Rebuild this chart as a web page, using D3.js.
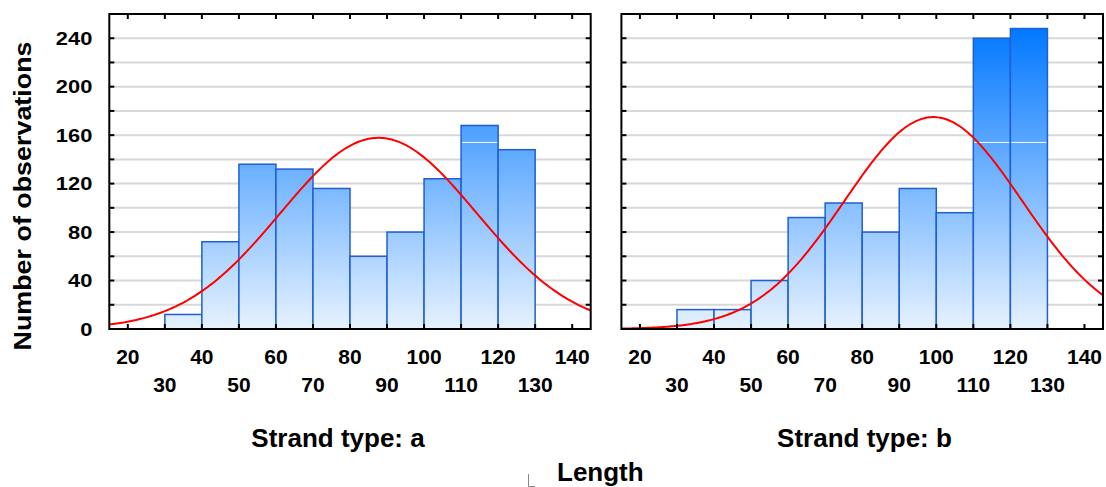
<!DOCTYPE html>
<html>
<head>
<meta charset="utf-8">
<script src="https://cdn.jsdelivr.net/npm/d3@7"></script>
<style>
  body { margin: 0; background: #fff; }
  svg text { font-family: "Liberation Sans", Arial, sans-serif; font-weight: bold; fill: #000; }
</style>
</head>
<body>
<svg id="chart" width="1106" height="487"></svg>
<script>
// bins of width 10, lower edges
var binStarts = [30, 40, 50, 60, 70, 80, 90, 100, 110, 120];
var countsA = [12, 72, 136, 132, 116, 60, 80, 124, 168, 148];
var countsB = [16, 16, 40, 92, 104, 80, 116, 96, 240, 248];
// normal fit
var fitA = { mean: 87.7, sd: 26.5 };
var fitB = { mean: 99.2, sd: 23.9 };
var xTicks = [20, 30, 40, 50, 60, 70, 80, 90, 100, 110, 120, 130, 140];
var yTicks = [0, 40, 80, 120, 160, 200, 240];
var yMinor = [20, 60, 100, 140, 180, 220];
var panelTitles = ["Strand type: a", "Strand type: b"];

var binWidth = 10;
var svg = d3.select('#chart');

var defs = svg.append('defs');
var grad = defs.append('linearGradient')
    .attr('id', 'barfill')
    .attr('gradientUnits', 'userSpaceOnUse')
    .attr('x1', 0).attr('x2', 0)
    .attr('y1', 329).attr('y2', 26);
grad.append('stop').attr('offset', '0%').attr('stop-color', '#e6f2fe');
grad.append('stop').attr('offset', '100%').attr('stop-color', '#0077ff');

var y = d3.scaleLinear().domain([0, 260]).range([329, 14]);

var drawPanel = function (x0, x1, counts, fit, title, titleX, showY, id) {
    var x = d3.scaleLinear().domain([15, 145]).range([x0, x1]);
    var g = svg.append('g');

    defs.append('clipPath').attr('id', 'clip' + id)
        .append('rect')
        .attr('x', x0).attr('y', y(260))
        .attr('width', x1 - x0).attr('height', y(0) - y(260));

    // grid
    g.selectAll('.grid')
        .data(d3.range(20, 260, 20))
        .enter().append('line')
        .attr('x1', x0).attr('x2', x1)
        .attr('y1', function (d) { return y(d); })
        .attr('y2', function (d) { return y(d); })
        .attr('stroke', '#d8d8d8')
        .attr('stroke-width', 2);

    // bars
    g.selectAll('.bar')
        .data(counts)
        .enter().append('rect')
        .attr('x', function (d, i) { return x(binStarts[i]); })
        .attr('width', function (d, i) { return x(binStarts[i] + binWidth) - x(binStarts[i]); })
        .attr('y', function (d) { return y(d); })
        .attr('height', function (d) { return y(0) - y(d); })
        .attr('fill', 'url(#barfill)')
        .attr('stroke', '#1f5fd2')
        .attr('stroke-width', 1.5);

    // thin white band seen in the taller bars
    g.selectAll('.band')
        .data(counts.map(function (d, i) { return { v: d, i: i }; }).filter(function (d) { return d.v > 156; }))
        .enter().append('line')
        .attr('x1', function (d) { return x(binStarts[d.i]) + 1; })
        .attr('x2', function (d) { return x(binStarts[d.i] + binWidth) - 1; })
        .attr('y1', y(154)).attr('y2', y(154))
        .attr('stroke', '#fff').attr('stroke-width', 1);

    // fitted normal curve
    var total = d3.sum(counts);
    var pts = d3.range(15, 145.01, 0.5).map(function (v) {
        var z = (v - fit.mean) / fit.sd;
        return [v, total * binWidth * Math.exp(-0.5 * z * z) / (fit.sd * Math.sqrt(2 * Math.PI))];
    });
    g.append('path')
        .datum(pts)
        .attr('clip-path', 'url(#clip' + id + ')')
        .attr('fill', 'none')
        .attr('stroke', '#ff0000')
        .attr('stroke-width', 2)
        .attr('d', d3.line()
            .x(function (d) { return x(d[0]); })
            .y(function (d) { return y(d[1]); }));

    // ticks, all pointing inward
    var tk = 5;
    xTicks.forEach(function (t) {
        g.append('line').attr('x1', x(t)).attr('x2', x(t))
            .attr('y1', y(0)).attr('y2', y(0) - tk)
            .attr('stroke', '#000').attr('stroke-width', 2);
        g.append('line').attr('x1', x(t)).attr('x2', x(t))
            .attr('y1', y(260)).attr('y2', y(260) + tk)
            .attr('stroke', '#000').attr('stroke-width', 2);
    });
    yTicks.concat(yMinor).forEach(function (t) {
        if (t === 0) return;
        g.append('line').attr('x1', x0).attr('x2', x0 + tk)
            .attr('y1', y(t)).attr('y2', y(t))
            .attr('stroke', '#000').attr('stroke-width', 2);
        g.append('line').attr('x1', x1).attr('x2', x1 - tk)
            .attr('y1', y(t)).attr('y2', y(t))
            .attr('stroke', '#000').attr('stroke-width', 2);
    });

    // frame
    g.append('rect')
        .attr('x', x0).attr('y', y(260))
        .attr('width', x1 - x0).attr('height', y(0) - y(260))
        .attr('fill', 'none').attr('stroke', '#000').attr('stroke-width', 2);

    // x tick labels in two staggered rows
    g.selectAll('.xl')
        .data(xTicks)
        .enter().append('text')
        .attr('x', function (d) { return x(d); })
        .attr('y', function (d, i) { return i % 2 === 0 ? 364 : 392; })
        .attr('text-anchor', 'middle')
        .style('font-size', '21px')
        .text(function (d) { return d; });

    if (showY) {
        // numbers on the y axis are a bit wider than tall in the source
        g.selectAll('.yl')
            .data(yTicks)
            .enter().append('text')
            .attr('transform', function (d) { return 'translate(' + (x0 - 17) + ',' + y(d) + ') scale(1.15,1)'; })
            .attr('dy', '0.35em')
            .attr('text-anchor', 'end')
            .style('font-size', '19px')
            .text(function (d) { return d; });
    }

    g.append('text')
        .attr('x', titleX)
        .attr('y', 447)
        .attr('text-anchor', 'middle')
        .style('font-size', '26px')
        .text(title);
};

drawPanel(109.3, 590.7, countsA, fitA, panelTitles[0], 338, true, 'a');
drawPanel(621.4, 1103, countsB, fitB, panelTitles[1], 864.5, false, 'b');

svg.append('text')
    .attr('transform', 'translate(31,196) rotate(-90) scale(1.12,1)')
    .attr('text-anchor', 'middle')
    .style('font-size', '24px')
    .text('Number of observations');

// small bracket glyph before the variable name
svg.append('path')
    .attr('d', 'M528.5,474 V486.5 H535')
    .attr('fill', 'none').attr('stroke', '#888').attr('stroke-width', 1);

svg.append('text')
    .attr('x', 557)
    .attr('y', 481)
    .style('font-size', '26px')
    .text('Length');
</script>
</body>
</html>
